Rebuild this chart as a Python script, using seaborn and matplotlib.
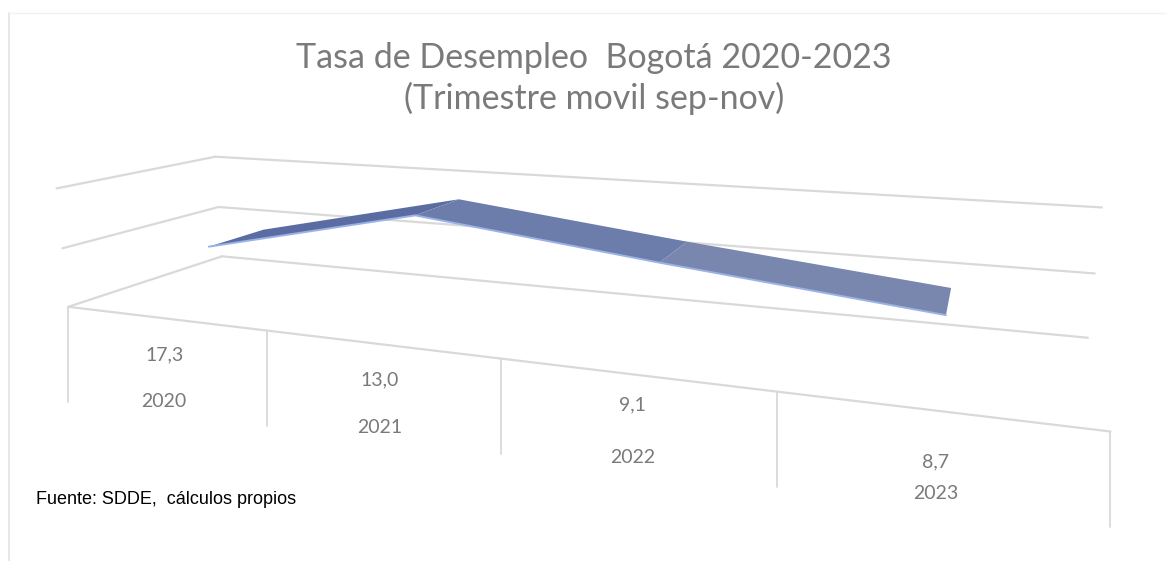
import numpy as np
import matplotlib
matplotlib.use("Agg")
import matplotlib.pyplot as plt
import seaborn as sns
from matplotlib.lines import Line2D
from matplotlib.colors import to_rgba
from mpl_toolkits.mplot3d import proj3d

# ---- data ----
years = ["2020", "2021", "2022", "2023"]
tasas = ["17,3", "13,0", "9,1", "8,7"]          # first row of the category labels
ribbon_values = [9.3, 17.3, 13.0, 9.1]          # heights of the 3-D ribbon as drawn
gridlines = [0, 10, 20]
title = "Tasa de Desempleo  Bogotá 2020-2023\n(Trimestre movil sep-nov)"
source = "Fuente: SDDE,  cálculos propios"

sns.set_theme(style="white")
plt.rcParams['font.family'] = ['Lato', 'DejaVu Sans']

seg_colors = sns.blend_palette(["#5b6ca2", "#6d7dab", "#7987ae"], 3)
edge_color = "#9ab2e6"
grid_color = "#d9d9d9"
label_gray = "#7a7a7a"

W, H = 1167, 561
fig = plt.figure(figsize=(W / 100, H / 100), dpi=100)
ax = fig.add_axes([-0.0400, -0.5321, 1.0, W / H], projection='3d')
ax.set_proj_type('persp', focal_length=0.181)
ax.view_init(elev=12.87, azim=-68.82, roll=0.07)
ax.set_box_aspect((1, 0.2611, 0.1269), zoom=0.8686)
ax.set_axis_off()
ax.computed_zorder = False

n = len(years)
ax.set_xlim(0, n)
ax.set_ylim(0, 1)
ax.set_zlim(0, 20)

# wall gridlines (back wall + left wall)
for z in gridlines:
    ax.plot([0, n], [1, 1], [z, z], color=grid_color, lw=1.6, zorder=1, clip_on=False)
    ax.plot([0, 0], [0, 1], [z, z], color=grid_color, lw=1.6, zorder=1, clip_on=False)
# floor front edge (category axis)
ax.plot([0, n], [0, 0], [0, 0], color=grid_color, lw=1.6, zorder=1, clip_on=False)

# ribbon
xc = np.arange(n) + 0.5
y1, y2 = 0.30, 0.68
X = np.vstack([xc, xc])
Y = np.vstack([np.full(n, y1), np.full(n, y2)])
Z = np.vstack([ribbon_values, ribbon_values])
fc = np.zeros((2, n, 4))
for i in range(n - 1):
    fc[:, i] = to_rgba(seg_colors[i])
fc[:, n - 1] = to_rgba(seg_colors[-1])
surf = ax.plot_surface(X, Y, Z, facecolors=fc, shade=False, linewidth=0,
                       antialiased=True, zorder=3)
surf.set_clip_on(False)
ax.plot(xc, np.full(n, y1), ribbon_values, color=edge_color, lw=1.4, zorder=4,
        clip_on=False)

fig.canvas.draw()

# project category positions on the front edge to place the 2-level labels
M = ax.get_proj()
def to_fig(xs, ys, zs):
    px, py, _ = proj3d.proj_transform(np.asarray(xs, float), np.asarray(ys, float),
                                      np.asarray(zs, float), M)
    pix = ax.transData.transform(np.column_stack([px, py]))
    return fig.transFigure.inverted().transform(pix)

bounds = to_fig(np.arange(n + 1), np.zeros(n + 1), np.zeros(n + 1))
centers = to_fig(xc, np.zeros(n), np.zeros(n))
div_len = 95 / H
for bx, by in bounds:
    fig.add_artist(Line2D([bx, bx], [by, by - div_len], transform=fig.transFigure,
                          color=grid_color, lw=1.3))
value_offsets = [37, 36, 31, 51]
for i, (cx, cy) in enumerate(centers):
    fig.text(cx, cy - value_offsets[i] / H, tasas[i], ha='center', va='center',
             color=label_gray, fontsize=14)
    fig.text(cx, cy - 83 / H, years[i], ha='center', va='center',
             color=label_gray, fontsize=14)

fig.text(0.509, 0.860, title, ha='center', va='center', color="#7a7a7a",
         fontsize=24.5, linespacing=1.3)
fig.text(0.031, 1 - 500 / H, source, ha='left', va='center', color="black",
         fontsize=13, family=['Liberation Sans', 'DejaVu Sans'])

# chart-area border (left and top)
fig.add_artist(Line2D([9 / W, 9 / W], [0, 1 - 13 / H], transform=fig.transFigure,
                      color="#e3e3e3", lw=1.2))
fig.add_artist(Line2D([9 / W, 1], [1 - 13 / H, 1 - 13 / H], transform=fig.transFigure,
                      color="#f2f2f2", lw=1.0))

fig.savefig("out.png", dpi=100)
